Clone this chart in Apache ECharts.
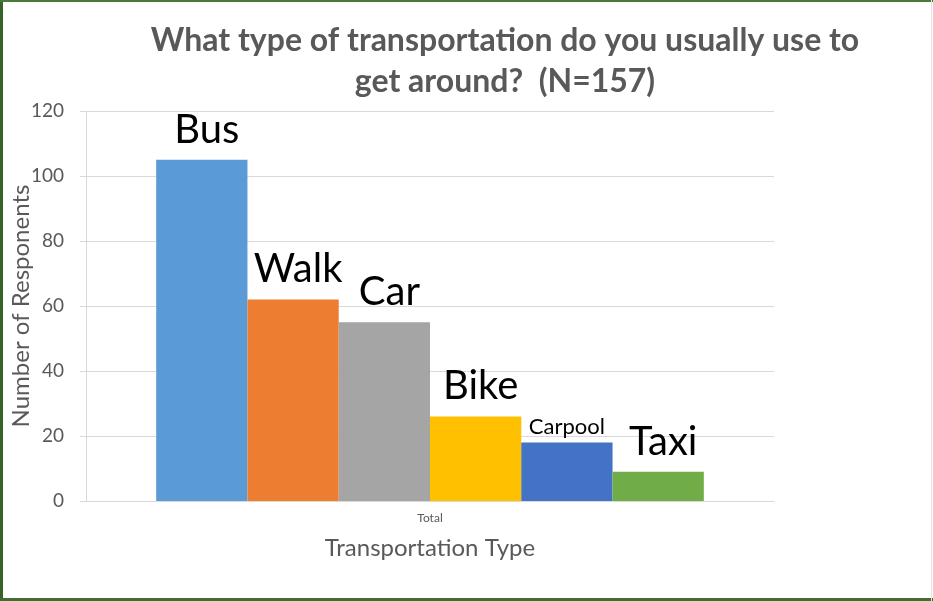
<!DOCTYPE html>
<html>
<head>
<meta charset="utf-8">
<script src="https://cdn.jsdelivr.net/npm/echarts@6/dist/echarts.min.js"></script>
<style>
html,body{margin:0;padding:0;background:#fff;}
#chart{width:933px;height:601px;}
</style>
</head>
<body>
<div id="chart"></div>
<script>
const categories = ['Total'];
const seriesNames = ['Bus', 'Walk', 'Car', 'Bike', 'Carpool', 'Taxi'];
const seriesValues = [105, 62, 55, 26, 18, 9];
const seriesColors = ['#5b9bd5', '#ed7d31', '#a5a5a5', '#ffc000', '#4472c4', '#70ad47'];
const labelSizes = [40, 40, 40, 40, 22, 40];
const yTicks = [0, 20, 40, 60, 80, 100, 120];

const FONT = 'Lato, "Open Sans", sans-serif';
const chart = echarts.init(document.getElementById('chart'), null, {renderer: 'canvas'});

const series = seriesNames.map((name, i) => ({
  name: name,
  type: 'bar',
  data: [seriesValues[i]],
  itemStyle: {color: seriesColors[i]},
  barGap: '0%',
  barCategoryGap: '20.4%',
  label: {
    show: true,
    position: 'top',
    distance: labelSizes[i] > 30 ? 10 : 5,
    offset: [labelSizes[i] > 30 ? 5 : 0, 0],
    formatter: name,
    color: '#000',
    fontFamily: FONT,
    fontSize: labelSizes[i]
  }
}));

chart.setOption({
  animation: false,
  backgroundColor: '#fff',
  title: {
    text: 'What type of transportation do you usually use to\nget around?  (N=157)',
    left: 505,
    top: 20,
    padding: 0,
    textAlign: 'center',
    textStyle: {
      fontFamily: FONT,
      fontWeight: 'bold',
      fontSize: 32,
      lineHeight: 41,
      color: '#595959'
    }
  },
  grid: {left: 86, right: 159, top: 111, bottom: 100, containLabel: false, outerBoundsMode: 'none'},
  xAxis: {
    type: 'category',
    data: categories,
    name: 'Transportation Type',
    nameLocation: 'middle',
    nameGap: 35,
    nameMoveOverlap: false,
    nameTextStyle: {fontFamily: FONT, fontSize: 24, color: '#595959'},
    axisLine: {show: true, lineStyle: {color: '#d9d9d9', width: 1}},
    axisTick: {show: false},
    axisLabel: {fontFamily: FONT, fontSize: 12, color: '#595959', margin: 11}
  },
  yAxis: {
    type: 'value',
    min: yTicks[0],
    max: yTicks[yTicks.length - 1],
    interval: 20,
    name: 'Number of Responents',
    nameLocation: 'middle',
    nameGap: 53,
    nameMoveOverlap: false,
    nameTextStyle: {fontFamily: FONT, fontSize: 24, color: '#595959'},
    axisLine: {show: true, lineStyle: {color: '#d9d9d9', width: 1}},
    axisTick: {show: true, length: 6, lineStyle: {color: '#d9d9d9'}},
    axisLabel: {fontFamily: FONT, fontSize: 19, color: '#595959', margin: 22},
    splitLine: {show: true, lineStyle: {color: '#d9d9d9', width: 1}}
  },
  graphic: [
    {type: 'rect', shape: {x: 0, y: 0, width: 3, height: 601}, style: {fill: '#35632a'}, silent: true},
    {type: 'rect', shape: {x: 0, y: 0, width: 933, height: 2}, style: {fill: '#4a7a3a'}, silent: true},
    {type: 'rect', shape: {x: 0, y: 598, width: 933, height: 3}, style: {fill: '#3f6f2f'}, silent: true},
    {type: 'rect', shape: {x: 931, y: 0, width: 1, height: 601}, style: {fill: '#dfe5df'}, silent: true}
  ],
  series: series
});
</script>
</body>
</html>
